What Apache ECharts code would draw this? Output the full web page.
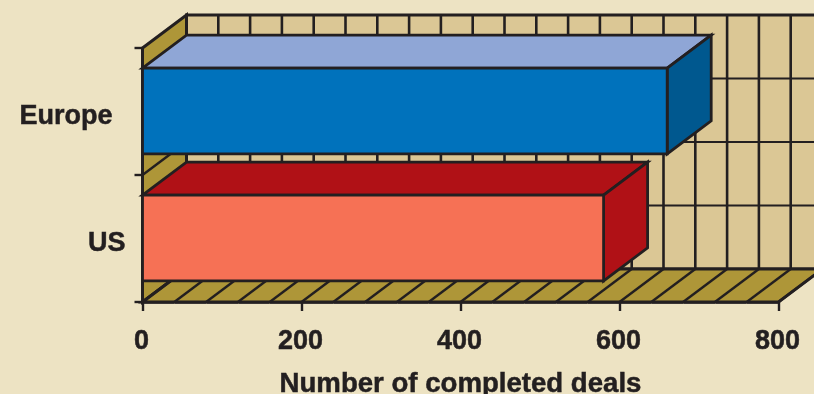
<!DOCTYPE html>
<html>
<head>
<meta charset="utf-8">
<style>html,body{margin:0;padding:0;background:#ede3c3}#chart{width:814px;height:394px}</style>
<script src="https://cdn.jsdelivr.net/npm/echarts@6/dist/echarts.min.js"></script>
</head>
<body>
<div id="chart"></div>
<script>
// Completed deals by region, drawn as extruded bars in a box-shaped backdrop.
const categories = ['US', 'Europe'];
const dealCounts = [580, 660];
const xTicks = [0, 200, 400, 600, 800];
const gridStep = 40;
const axisTitle = 'Number of completed deals';

const frontColors = ['#f67155', '#0072bc'];
const topColors = ['#b01116', '#8fa6d6'];
const sideColors = ['#b01116', '#00588f'];

const INK = '#231f20';
const PAGE = '#ede3c3';
const WALL = '#dbc795';
const FLOOR = '#ae9638';
const DEPTH_X = 44;
const DEPTH_Y = 33;
const BAR_SHARE = 0.675;
const FONT = '"Liberation Sans", Arial, sans-serif';

const xMax = xTicks[xTicks.length - 1];
const wallValues = [];
for (let v = 0; v <= xMax; v += gridStep) wallValues.push(v);

const back = ([x, y]) => [x + DEPTH_X, y - DEPTH_Y];
const poly = (points, fill, lineWidth) => ({
  type: 'polygon',
  shape: { points },
  style: { fill, stroke: INK, lineWidth, lineJoin: 'miter' }
});
const seg = (a, b, lineWidth) => ({
  type: 'line',
  shape: { x1: a[0], y1: a[1], x2: b[0], y2: b[1] },
  style: { stroke: INK, lineWidth, fill: null }
});

// Back wall, left wall and floor with their grid lines.
function renderBackdrop(params, api) {
  const band = api.size([0, 1])[1];
  const yBottom = api.coord([0, 0])[1] + band / 2;
  const yTop = yBottom - band * categories.length;
  const xAt = v => api.coord([v, 0])[0];
  const x0 = xAt(0);
  const x1 = xAt(xMax);

  const children = [
    poly([back([x0, yTop]), back([x1, yTop]), back([x1, yBottom]), back([x0, yBottom])], WALL, 3),
    poly([[x0, yTop], back([x0, yTop]), back([x0, yBottom]), [x0, yBottom]], FLOOR, 3),
    poly([[x0, yBottom], [x1, yBottom], back([x1, yBottom]), back([x0, yBottom])], FLOOR, 3)
  ];
  // Levels fall on every half category.
  for (let i = 1; i < categories.length * 2; i++) {
    const y = yBottom - (band / 2) * i;
    children.push(seg(back([x0, y]), back([x1, y]), 1.8));
    children.push(seg([x0, y], back([x0, y]), 2.4));
  }
  wallValues.forEach(v => {
    const x = xAt(v);
    children.push(seg(back([x, yTop]), back([x, yBottom]), 2.6));
    children.push(seg([x, yBottom], back([x, yBottom]), 2.4));
  });
  return { type: 'group', children };
}

// One extruded bar: top face, end face, front face.
function renderBar(params, api) {
  const i = api.value(1);
  const band = api.size([0, 1])[1];
  const centre = api.coord([0, i])[1];
  const half = band * BAR_SHARE / 2;
  const x0 = api.coord([0, i])[0];
  const x1 = api.coord([api.value(0), i])[0];
  const yA = centre - half - 0.5;
  const yB = centre + half - 0.5;
  return {
    type: 'group',
    children: [
      poly([[x0, yA], [x1, yA], back([x1, yA]), back([x0, yA])], topColors[i], 2.8),
      poly([[x1, yA], back([x1, yA]), back([x1, yB]), [x1, yB]], sideColors[i], 2.8),
      poly([[x0, yA], [x1, yA], [x1, yB], [x0, yB]], frontColors[i], 2.8)
    ]
  };
}

const chart = echarts.init(document.getElementById('chart'), null, { renderer: 'canvas' });
const boldText = { color: INK, fontFamily: FONT, fontWeight: 'bold', fontSize: 27, textBorderColor: INK, textBorderWidth: 0.5 };
chart.setOption({
  animation: false,
  backgroundColor: PAGE,
  grid: { left: 142.5, width: 636, top: 48, height: 254, containLabel: false, outerBoundsMode: 'none' },
  textStyle: { fontFamily: FONT },
  xAxis: {
    type: 'value',
    min: 0,
    max: xMax,
    interval: xTicks[1] - xTicks[0],
    splitLine: { show: false },
    axisLine: { show: true, lineStyle: { color: INK, width: 2.6 } },
    axisTick: { show: true, length: 9, lineStyle: { color: INK, width: 2.4 } },
    minorTick: { show: true, splitNumber: xTicks[1] / gridStep, length: 2, lineStyle: { color: '#8d8468', width: 1 } },
    axisLabel: {
      ...boldText,
      margin: 26,
      padding: [0, 2, 0, 0],
      showMinLabel: true,
      showMaxLabel: true
    },
    name: axisTitle,
    nameLocation: 'middle',
    nameGap: 68,
    nameTextStyle: { ...boldText, fontSize: 27.6 }
  },
  yAxis: {
    type: 'category',
    data: categories,
    axisLine: { show: true, lineStyle: { color: INK, width: 2.6 } },
    axisTick: { show: true, length: 8, lineStyle: { color: INK, width: 2.4 } },
    splitLine: { show: false },
    axisLabel: {
      ...boldText,
      margin: 17,
      formatter: v => (v === 'Europe' ? '{far|' + v + '}' : '{near|' + v + '}'),
      rich: {
        far: { ...boldText, padding: [11, 13, 0, 0] },
        near: { ...boldText, padding: [11, 0, 0, 0] }
      }
    }
  },
  series: [
    {
      type: 'custom',
      name: 'Backdrop',
      z: 1,
      silent: true,
      clip: false,
      renderItem: renderBackdrop,
      data: [[0, 0]],
      encode: { x: 0, y: 1 }
    },
    {
      type: 'custom',
      name: 'Completed deals',
      z: 3,
      clip: false,
      renderItem: renderBar,
      data: dealCounts.map((v, i) => [v, i]),
      encode: { x: 0, y: 1 }
    }
  ]
});
</script>
</body>
</html>
